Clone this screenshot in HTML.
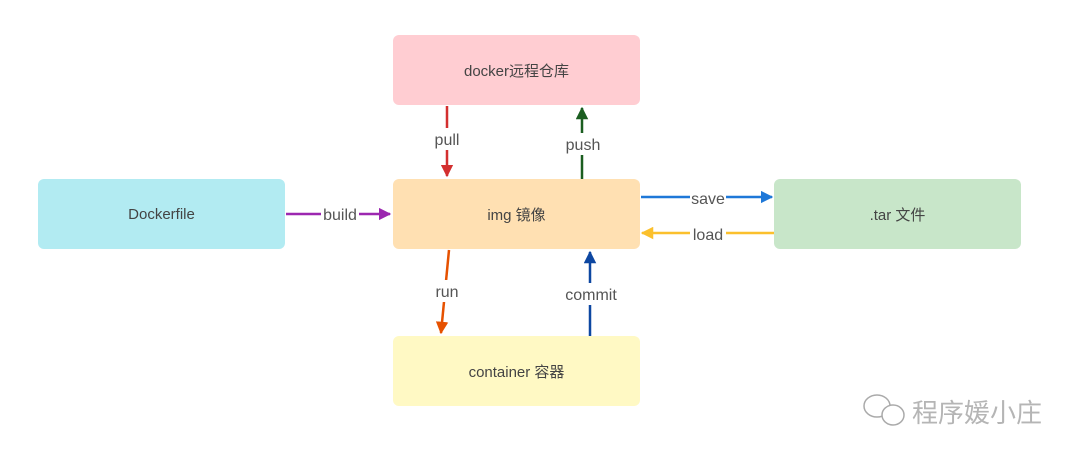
<!DOCTYPE html>
<html><head><meta charset="utf-8"><style>
body{margin:0;width:1080px;height:460px;background:#fff;overflow:hidden;position:relative;font-family:"Liberation Sans","Noto Sans CJK SC",sans-serif;}
.b{position:absolute;border-radius:6px;display:flex;align-items:center;justify-content:center;font-size:15px;color:#444;}
svg{position:absolute;left:0;top:0}
</style></head><body>
<div class="b" style="left:393px;top:35px;width:247px;height:70px;background:#ffcdd2">docker远程仓库</div>
<div class="b" style="left:38px;top:179px;width:247px;height:70px;background:#b2ebf2">Dockerfile</div>
<div class="b" style="left:393px;top:179px;width:247px;height:70px;background:#ffe0b2">img 镜像</div>
<div class="b" style="left:774px;top:179px;width:247px;height:70px;background:#c8e6c9">.tar 文件</div>
<div class="b" style="left:393px;top:336px;width:247px;height:70px;background:#fff9c4">container 容器</div>
<svg width="1080" height="460" font-family="Liberation Sans, sans-serif" font-size="16" fill="#555">
<defs>
<marker id="a" viewBox="0 0 10 10" refX="9" refY="5" markerWidth="5" markerHeight="5" orient="auto"><path d="M0 0L10 5L0 10z" fill="context-stroke"/></marker>
</defs>
<g stroke-width="2.5" fill="none">
<line x1="447" y1="106" x2="447" y2="176" stroke="#d32f2f" marker-end="url(#a)"/>
<line x1="582" y1="179" x2="582" y2="108" stroke="#1b5e20" marker-end="url(#a)"/>
<line x1="286" y1="214" x2="390" y2="214" stroke="#9c27b0" marker-end="url(#a)"/>
<line x1="641" y1="197" x2="772" y2="197" stroke="#1e78d8" marker-end="url(#a)"/>
<line x1="774" y1="233" x2="642" y2="233" stroke="#fbc02d" marker-end="url(#a)"/>
<path d="M449 250 L441 333" stroke="#e65100" marker-end="url(#a)"/>
<line x1="590" y1="336" x2="590" y2="252" stroke="#0d47a1" marker-end="url(#a)"/>
</g>
<g text-anchor="middle">
<rect x="432" y="128" width="32" height="22" fill="#fff"/><text x="447" y="145">pull</text>
<rect x="564" y="133" width="38" height="22" fill="#fff"/><text x="583" y="150">push</text>
<rect x="321" y="204" width="38" height="22" fill="#fff"/><text x="340" y="220">build</text>
<rect x="690" y="188" width="36" height="20" fill="#fff"/><text x="708" y="204">save</text>
<rect x="690" y="224" width="36" height="20" fill="#fff"/><text x="708" y="240">load</text>
<rect x="434" y="280" width="26" height="22" fill="#fff"/><text x="447" y="297">run</text>
<rect x="562" y="283" width="58" height="22" fill="#fff"/><text x="591" y="300">commit</text>
</g>
<g stroke="#aaa" stroke-width="1.5" fill="#fff">
<ellipse cx="877" cy="406" rx="13" ry="11"/><ellipse cx="893" cy="415" rx="11" ry="10"/>
</g>
<text x="912" y="422" font-family="Noto Sans CJK SC, sans-serif" font-size="26" fill="#b5b5b5">程序媛小庄</text>
</svg>
</body></html>
